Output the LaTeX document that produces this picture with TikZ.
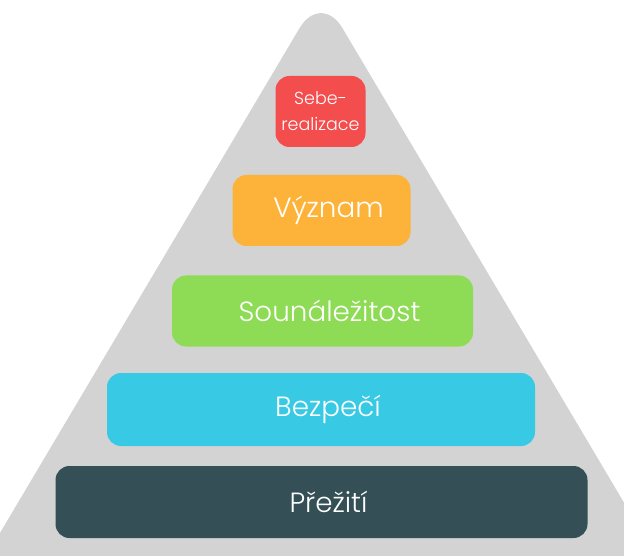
\documentclass[tikz,border=0pt]{standalone}
\usepackage{fontspec}
\setmainfont{Poppins Light}
\definecolor{pyrgray}{HTML}{D3D3D3}
\definecolor{tierred}{HTML}{F34D4E}
\definecolor{tierorange}{HTML}{FDB33A}
\definecolor{tiergreen}{HTML}{8EDB55}
\definecolor{tiercyan}{HTML}{38C9E5}
\definecolor{tierdark}{HTML}{344F55}
\newcommand{\tierlabel}[1]{\hspace*{14pt}#1}
\begin{document}
\begin{tikzpicture}[x=1pt,y=-1pt,
  tier/.style={rectangle, rounded corners=14pt, text=white, inner sep=0pt,
    font=\fontsize{27.8}{32}\selectfont},
]
\useasboundingbox (0,0) rectangle (624,556);
\clip (0,0) rectangle (624,556);
% grey pyramid with rounded apex and base corners
\fill[pyrgray]
  (321,570) [rounded corners=40pt] -- (-22,570) [rounded corners=42pt] -- (321,-8)
  [rounded corners=40pt] -- (664,570) [sharp corners] -- cycle;
% tiers, bottom to top
\node[tier, fill=tierdark, minimum width=532, minimum height=72] (survival) at (321.5,502) {\tierlabel{Přežití}};
\node[tier, fill=tiercyan, minimum width=428, minimum height=73] (safety) at (321,409.5) {\tierlabel{Bezpečí}};
\node[tier, fill=tiergreen, minimum width=301, minimum height=71] (belonging) at (322.5,311) {\tierlabel{Sounáležitost}};
\node[tier, fill=tierorange, minimum width=178, minimum height=71] (meaning) at (321.5,210.5) {\tierlabel{Význam}};
\node[tier, fill=tierred, minimum width=90, minimum height=71, align=center,
  font=\fontsize{17.5}{26}\selectfont] (selfreal) at (320.5,111.5) {Sebe-\\realizace};
\end{tikzpicture}
\end{document}
